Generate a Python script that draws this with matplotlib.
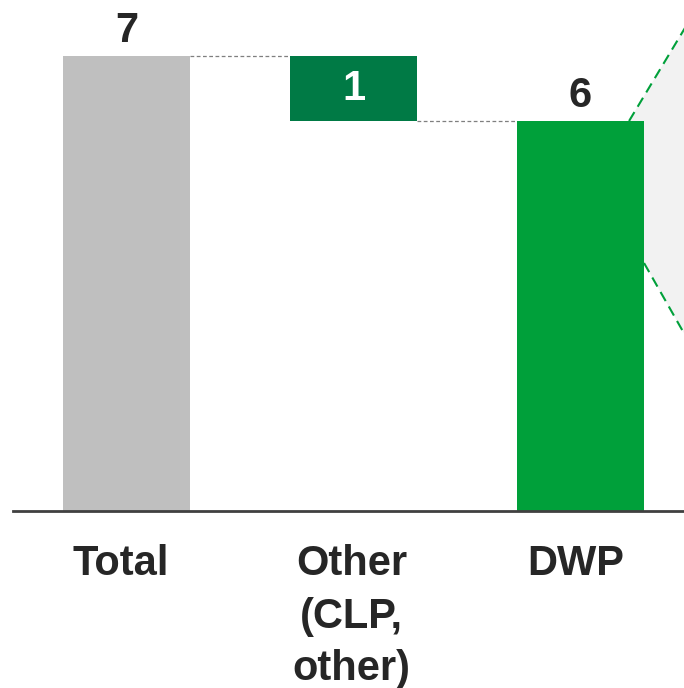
import matplotlib
matplotlib.use("Agg")
import matplotlib.pyplot as plt
from matplotlib.patches import Polygon
from matplotlib.transforms import ScaledTranslation

plt.rcParams['font.family'] = ['Liberation Sans', 'DejaVu Sans']

# waterfall data
categories = ["Total", "Other\n(CLP,\nother)", "DWP"]
values = [7, 1, 6]
bar_colors = ["#bfbfbf", "#007a45", "#00a03a"]
label_colors = ["#262626", "#ffffff", "#262626"]

# callout wedge going off to the right of the DWP bar
callout_top = [(2.214, 6.0), (2.46, 7.43)]
callout_bottom = [(2.28, 3.815), (2.46, 2.71)]

fig = plt.figure(figsize=(6.84, 6.88), dpi=100)
ax = fig.add_axes([0, 177 / 688, 1, 511 / 688])

x = [0, 1, 2]
width = 0.56
bottoms = [0, values[0] - values[1], 0]

# light grey zoom area behind the last bar
poly = Polygon([callout_top[0], callout_top[1], callout_bottom[1], callout_bottom[0],
                (callout_bottom[0][0], 6.0)],
               closed=True, facecolor="#f2f2f2", edgecolor="none", zorder=0)
ax.add_patch(poly)
for seg in (callout_top, callout_bottom):
    ax.plot([seg[0][0], seg[1][0]], [seg[0][1], seg[1][1]], color="#00a03a",
            lw=1.5, ls=(0, (5, 3)), zorder=1)

ax.bar(x, values, width=width, bottom=bottoms, color=bar_colors, zorder=2)

# connectors between the steps
ax.plot([x[0] + width / 2, x[1] - width / 2], [values[0], values[0]],
        color="#7f7f7f", lw=0.9, ls=(0, (3, 2)), zorder=3)
ax.plot([x[1] + width / 2, x[2] - width / 2], [bottoms[1], bottoms[1]],
        color="#7f7f7f", lw=0.9, ls=(0, (3, 2)), zorder=3)

# value labels
for i in [0, 2]:
    ax.annotate(str(values[i]), (x[i], bottoms[i] + values[i]), xytext=(0, 10),
                textcoords="offset points", ha="center", va="baseline",
                fontsize=30, fontweight="bold", color=label_colors[i])
ax.text(x[1], bottoms[1] + values[1] / 2, str(values[1]), ha="center", va="center",
        fontsize=30, fontweight="bold", color=label_colors[1], zorder=4)

# baseline
ax.plot([-0.5, 2.46], [0, 0], color="#404040", lw=2, zorder=3, clip_on=False)

ax.set_xlim(-0.557, 2.456)
ax.set_ylim(0, 511 / 65)
ax.set_xticks(x)
ax.set_xticklabels(categories, fontsize=30, fontweight="bold", color="#262626",
                   linespacing=1.4)
ax.tick_params(axis="x", length=0, pad=24)
nudges = [-0.06, -0.02, -0.05]
for lbl, dx in zip(ax.get_xticklabels(), nudges):
    lbl.set_transform(lbl.get_transform() + ScaledTranslation(dx, 0, fig.dpi_scale_trans))
ax.set_yticks([])
for s in ax.spines.values():
    s.set_visible(False)

fig.savefig("out.png", dpi=100)
